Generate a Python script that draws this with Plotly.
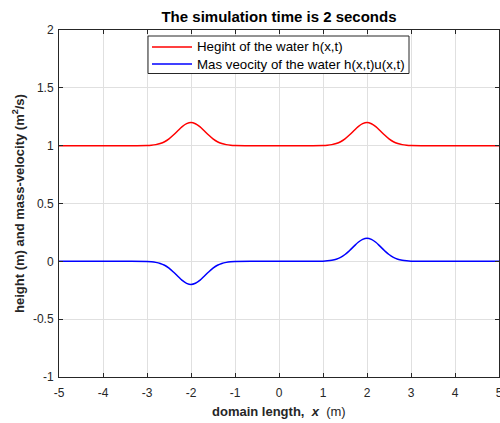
import plotly.graph_objects as go

# Sample positions along the domain (m)
x_pos = [-5.0, -3.5,
         -3.0, -2.9, -2.8, -2.7, -2.6, -2.5, -2.4, -2.3, -2.2, -2.1, -2.0,
         -1.9, -1.8, -1.7, -1.6, -1.5, -1.4, -1.3, -1.2, -1.1, -1.0,
         -0.5, 0.5,
         1.0, 1.1, 1.2, 1.3, 1.4, 1.5, 1.6, 1.7, 1.8, 1.9, 2.0,
         2.1, 2.2, 2.3, 2.4, 2.5, 2.6, 2.7, 2.8, 2.9, 3.0,
         3.5, 5.0]

# Water height h(x,t)
height = [1.0, 1.0,
          1.0015, 1.004, 1.009, 1.018, 1.034, 1.059, 1.092, 1.129, 1.165, 1.190, 1.200,
          1.190, 1.165, 1.129, 1.092, 1.059, 1.034, 1.018, 1.009, 1.004, 1.0015,
          1.0, 1.0,
          1.0015, 1.004, 1.009, 1.018, 1.034, 1.059, 1.092, 1.129, 1.165, 1.190, 1.200,
          1.190, 1.165, 1.129, 1.092, 1.059, 1.034, 1.018, 1.009, 1.004, 1.0015,
          1.0, 1.0]

# Mass velocity h(x,t)u(x,t)
mass_vel = [0.0, 0.0,
            -0.0015, -0.004, -0.009, -0.018, -0.034, -0.059, -0.092, -0.129, -0.165, -0.190, -0.200,
            -0.190, -0.165, -0.129, -0.092, -0.059, -0.034, -0.018, -0.009, -0.004, -0.0015,
            0.0, 0.0,
            0.0015, 0.004, 0.009, 0.018, 0.034, 0.059, 0.092, 0.129, 0.165, 0.190, 0.200,
            0.190, 0.165, 0.129, 0.092, 0.059, 0.034, 0.018, 0.009, 0.004, 0.0015,
            0.0, 0.0]

series_names = ["Hegiht of the water h(x,t)", "Mas veocity of the water h(x,t)u(x,t)"]
series_colors = ["#ff0000", "#0000ff"]

x_ticks = [-5, -4, -3, -2, -1, 0, 1, 2, 3, 4, 5]
x_tick_text = ["-5", "-4", "-3", "-2", "-1", "0", "1", "2", "3", "4", "5"]
y_ticks = [-1, -0.5, 0, 0.5, 1, 1.5, 2]
y_tick_text = ["-1", "-0.5", "0", "0.5", "1", "1.5", "2"]

FONT = "Liberation Sans, Arial, Helvetica, sans-serif"
AX = "#262626"
GRID = "#e0e0e0"

# plot-area geometry in pixels
W, H = 500, 423
L, R, T, B = 59, 1, 30, 46
PW, PH = W - L - R, H - T - B


def px(xp):
    return (xp - L) / PW


def py(yp):
    return (H - B - yp) / PH


fig = go.Figure()
for yvals, name, col in zip([height, mass_vel], series_names, series_colors):
    fig.add_trace(go.Scatter(x=x_pos, y=yvals, mode="lines", line_shape="spline",
                             line=dict(color=col, width=1.5), name=name,
                             showlegend=False))

axis_common = dict(showline=True, linecolor=AX, linewidth=1, mirror="ticks",
                   ticks="inside", ticklen=4, tickcolor=AX, showgrid=True,
                   gridcolor=GRID, gridwidth=1, zeroline=False,
                   ticklabeloverflow="allow", automargin=False,
                   tickfont=dict(family=FONT, size=12, color=AX))

# Legend drawn as box + sample lines + text (MATLAB-like compact layout)
shapes = [dict(type="rect", xref="paper", yref="paper",
               x0=px(148), x1=px(409), y0=py(73.5), y1=py(36),
               line=dict(color=AX, width=1), fillcolor="white", layer="above")]
annotations = []
row_y = [47, 64]
for name, col, ry in zip(series_names, series_colors, row_y):
    shapes.append(dict(type="line", xref="paper", yref="paper",
                       x0=px(152), x1=px(192), y0=py(ry), y1=py(ry),
                       line=dict(color=col, width=1.5), layer="above"))
    annotations.append(dict(xref="paper", yref="paper", x=px(195), y=py(ry),
                            xanchor="left", yanchor="middle", showarrow=False,
                            text=name, font=dict(family=FONT, size=13.3, color="#000000")))

# x-axis title as an annotation (bold part + normal unit)
annotations.append(dict(xref="paper", yref="paper", x=0.5, y=py(411),
                        xanchor="center", yanchor="middle", showarrow=False,
                        text="<b>domain length,  <i>x</i></b>  (m)",
                        font=dict(family=FONT, size=13, color=AX)))

fig.update_layout(
    width=W, height=H,
    margin=dict(l=L, r=R, t=T, b=B),
    paper_bgcolor="white", plot_bgcolor="white",
    font=dict(family=FONT, color=AX),
    title=dict(text="<b>The simulation time is 2 seconds</b>",
               x=(L + W - R) / 2 / W, xanchor="center", y=1 - 17 / H, yanchor="middle",
               font=dict(family=FONT, size=15, color="#000000")),
    xaxis=dict(range=[-5, 5], tickvals=x_ticks, ticktext=x_tick_text,
               ticklabelstandoff=5, **axis_common),
    yaxis=dict(range=[-1, 2], tickvals=y_ticks, ticktext=y_tick_text,
               ticklabelstandoff=2,
               title=dict(text="<b>height (m) and mass-velocity (m<sup>2</sup>/s)</b>", standoff=5,
                          font=dict(family=FONT, size=13, color=AX)),
               **axis_common),
    shapes=shapes,
    annotations=annotations,
    showlegend=False,
)

fig.write_html("out.html")
